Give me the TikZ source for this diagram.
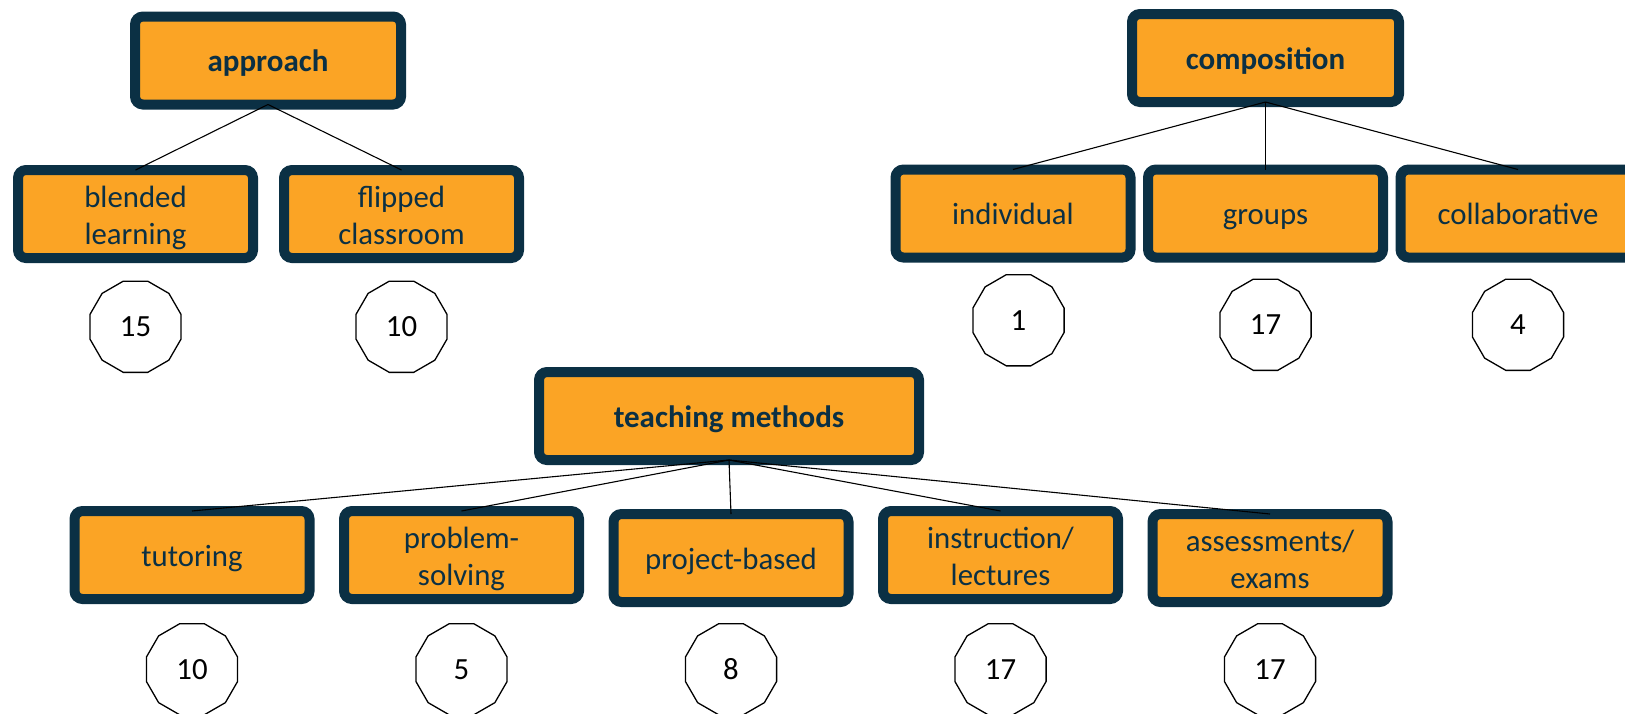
\documentclass[tikz,border=0pt]{standalone}
\usepackage{fontspec}
\setmainfont{Carlito}
\usetikzlibrary{positioning, shapes.geometric}
\definecolor{navy}{HTML}{0B3044}
\definecolor{amber}{HTML}{FBA425}
\newcommand{\boxstrut}{\vrule height 15pt depth 4pt width 0pt}
\newcommand{\branch}[3][]{
  \node(#2)[
    branch,
    #1
  ] {#3};
}
\newcommand{\score}[3][]{
  \node(#2)[
    score,
    #1
  ] {#3};
}
\tikzset{
  branch/.style = {
    draw=navy,
    fill=amber,
    text=navy,
    line width=5pt,
    rounded corners=4pt,
    minimum width=117.5pt,
    minimum height=44pt,
    inner sep=0pt,
    outer sep=0pt,
    align=center,
    font=\fontsize{15.4}{18.5}\selectfont,
    execute at begin node=\boxstrut,
    execute at end node=\boxstrut,
  },
  % two lines of text sit a little lower
  pair/.style = {
    execute at begin node={\vrule height 34.2pt depth 0pt width 0pt},
  },
  root/.style = {
    branch,
    minimum width=133pt,
    font=\fontsize{15.5}{18.5}\selectfont\bfseries,
  },
  score/.style = {
    draw,
    regular polygon,
    regular polygon sides=12,
    minimum size=47.2pt,
    inner sep=0pt,
    line width=0.65pt,
    font=\fontsize{15.4}{18}\selectfont,
  },
  link/.style = {
    line width=0.55pt,
  },
  node distance=11.25pt,
}
\begin{document}
\begin{tikzpicture}[x=0.5pt, y=0.5pt]
\useasboundingbox (0,0) rectangle (1625,-713);

% approach
\branch[root, at={(268,-60.5)}]{approach}{approach}
\branch[pair, at={(135.5,-214)}]{blended}{blended\\learning}
\branch[pair, right=15.5pt of blended]{flipped}{flipped\\classroom}
\draw[link] (approach.south) -- (blended.north);
\draw[link] (approach.south) -- (flipped.north);
\score[below=of blended]{blendedN}{15}
\score[below=of flipped]{flippedN}{10}

% composition
\branch[root, minimum width=133.5pt, at={(1265.5,-58)}]{composition}{composition}
\branch[at={(1013,-213.5)}]{individual}{individual}
\branch[right=8.75pt of individual]{groups}{groups}
\branch[right=8.75pt of groups]{collaborative}{collaborative}
\draw[link] (composition.south) -- (individual.north);
\draw[link] (composition.south) -- (groups.north);
\draw[link] (composition.south) -- (collaborative.north);
\score[below=10.5pt of individual, xshift=2.75pt, yshift=2.25pt]{individualN}{1}
\score[below=10.5pt of groups]{groupsN}{17}
\score[below=10.5pt of collaborative]{collaborativeN}{4}

% teaching methods
\branch[root, minimum width=190pt, at={(729,-416)}]{methods}{teaching methods}
\branch[at={(192,-555)}]{tutoring}{tutoring}
\branch[pair, right=17.25pt of tutoring]{problem}{problem-\\solving}
\branch[right=17.25pt of problem, yshift=-1.5pt]{project}{project-based}
\branch[pair, right=17.25pt of project, yshift=1.5pt]{instruction}{instruction/\\lectures}
\branch[pair, right=17.25pt of instruction, yshift=-1.5pt]{assessments}{assessments/\\exams}
\foreach \child in {tutoring, problem, project, instruction, assessments}
  \draw[link] (methods.south) -- (\child.north);
\score[below=12pt of tutoring]{tutoringN}{10}
\score[below=12pt of problem]{problemN}{5}
\score[below=12pt of project, yshift=1.5pt]{projectN}{8}
\score[below=12pt of instruction]{instructionN}{17}
\score[below=12pt of assessments, yshift=1.5pt]{assessmentsN}{17}

\end{tikzpicture}
\end{document}
